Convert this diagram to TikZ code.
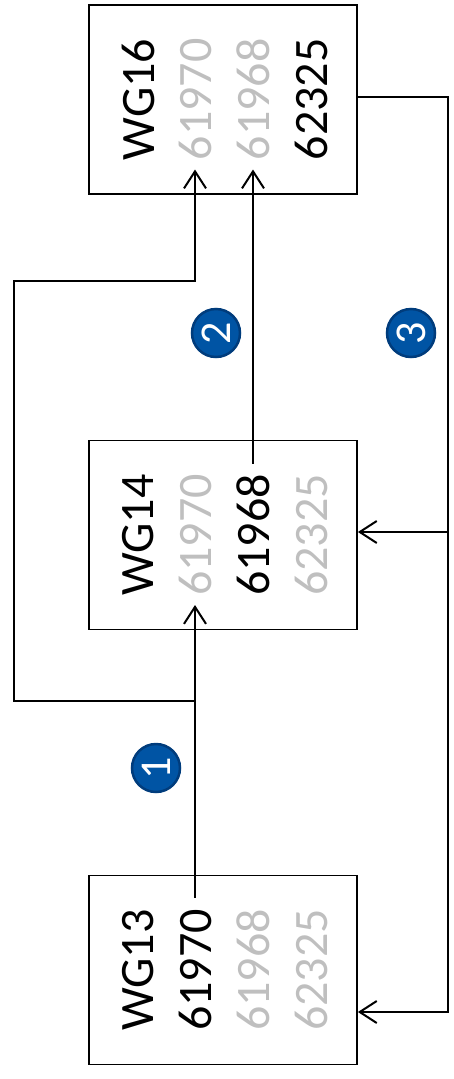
\documentclass[tikz,border=0pt]{standalone}
\usepackage{fontspec}
\setmainfont{Carlito}
\usetikzlibrary{arrows.meta,calc}
\definecolor{gr}{RGB}{191,191,191}
\definecolor{badgefill}{RGB}{0,84,164}
\definecolor{badgeline}{RGB}{0,60,124}
\begin{document}
\begin{tikzpicture}[x=1pt,y=-1pt,
  box/.style={draw, line width=1.8pt, minimum width=268pt, minimum height=189pt, inner sep=0},
  lab/.style={font=\fontsize{48}{58}\selectfont, rotate=90, inner sep=0},
  on/.style={lab, text=black},
  off/.style={lab, text=gr},
  wire/.style={line width=2pt},
  arr/.style={wire, -{Straight Barb[length=17pt,width=22pt]}},
  badge/.style={circle, fill=badgefill, draw=badgeline, line width=2.5pt, minimum size=48pt,
    inner sep=0, text=white, font=\fontsize{44}{44}\selectfont, rotate=90}]
\useasboundingbox (0,0) rectangle (454,1079);
% WG16
\node[box] (b16) at (223,99.5) {};
\node[on]  (w16) at (138,99.5) {WG16};
\node[off] (a16) at (195,99.5) {61970};
\node[off] (c16) at (253,99.5) {61968};
\node[on]  (d16) at (311,99.5) {62325};
% WG14
\node[box] (b14) at (223,535) {};
\node[on]  (w14) at (138,535) {WG14};
\node[off] (a14) at (195,535) {61970};
\node[on]  (c14) at (253,535) {61968};
\node[off] (d14) at (311,535) {62325};
% WG13
\node[box] (b13) at (223,970) {};
\node[on]  (w13) at (138,970) {WG13};
\node[on]  (a13) at (195,970) {61970};
\node[off] (c13) at (253,970) {61968};
\node[off] (d13) at (311,970) {62325};
% helper coordinates
\coordinate (y1) at (0,701);
\coordinate (k1) at (14,701);
\coordinate (k2) at (14,281);
\coordinate (r1) at (448,97);
\coordinate (r3) at (448,532);
\coordinate (r2) at (448,1012);
% connectors
\draw[arr, shorten <=11pt, shorten >=9pt] (a13.east) -- (a14.west);
\draw[arr, shorten >=9pt] (a13 |- y1) -- (k1) -- (k2) -- (a16 |- k2) -- (a16.west);
\draw[arr, shorten <=10pt, shorten >=9pt] (c14.east) -- (c16.west);
\draw[arr] (b16.east |- r1) -- (r1) -- (r2) -- (b13.east |- r2);
\draw[arr] (r3) -- (b14.east |- r3);
% badges
\node[badge] (n1) at (156,768) {1};
\node[badge] (n2) at (216,333) {2};
\node[badge] (n3) at (411,333) {3};
\end{tikzpicture}
\end{document}
